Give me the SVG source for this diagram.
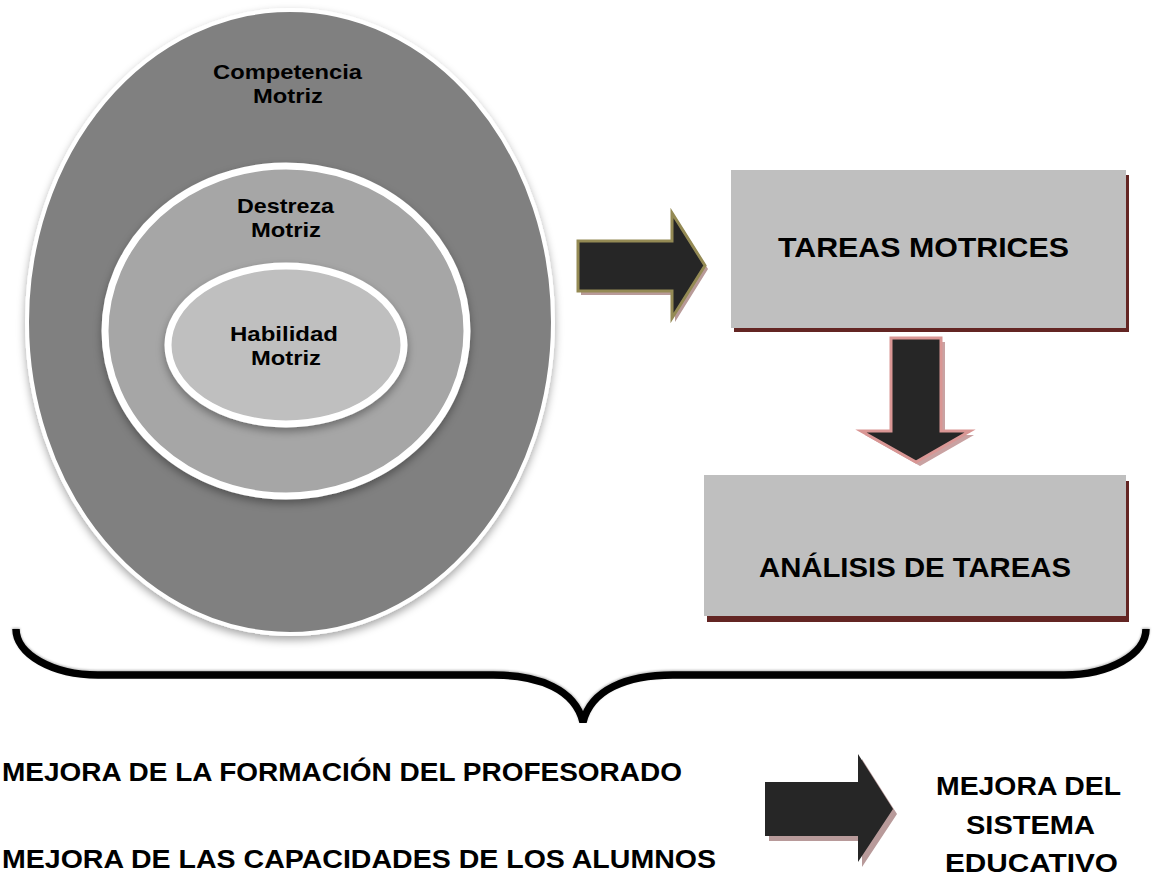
<svg xmlns="http://www.w3.org/2000/svg" width="1152" height="877" viewBox="0 0 1152 877">
  <defs>
    <filter id="soft" x="-10%" y="-10%" width="120%" height="125%">
      <feDropShadow dx="0" dy="4" stdDeviation="4" flood-color="#000" flood-opacity="0.35"/>
    </filter>
    <filter id="braceShadow" x="-5%" y="-20%" width="110%" height="140%">
      <feDropShadow dx="0" dy="-1" stdDeviation="0.8" flood-color="#000" flood-opacity="0.3"/>
    </filter>
  </defs>
  <style>
    .lbl { font-family: "Liberation Sans", Arial, sans-serif; font-weight: bold; fill: #000; }
    .small { font-size: 21px; }
    .big { font-size: 28px; }
    .bottom { font-size: 26px; }
    .ring { stroke: #ffffff; }
    .box { fill: #bfbfbf; }
    .boxShadow { fill: #632523; }
    .arrowFill { fill: #262626; }
  </style>
  <rect width="1152" height="877" fill="#ffffff"/>

  <g id="competencia">
    <ellipse cx="290" cy="322" rx="263" ry="312" fill="#808080" class="ring" stroke-width="4" filter="url(#soft)"/>
    <text class="lbl small" x="213" y="79" textLength="149" lengthAdjust="spacingAndGlyphs">Competencia</text>
    <text class="lbl small" x="253" y="103" textLength="70" lengthAdjust="spacingAndGlyphs">Motriz</text>
  </g>
  <g id="destreza">
    <ellipse cx="286" cy="331" rx="181" ry="165" fill="#a6a6a6" class="ring" stroke-width="7" filter="url(#soft)"/>
    <text class="lbl small" x="237" y="213" textLength="97" lengthAdjust="spacingAndGlyphs">Destreza</text>
    <text class="lbl small" x="251" y="237" textLength="70" lengthAdjust="spacingAndGlyphs">Motriz</text>
  </g>
  <g id="habilidad">
    <ellipse cx="286" cy="345" rx="118" ry="79" fill="#bfbfbf" class="ring" stroke-width="7" filter="url(#soft)"/>
    <text class="lbl small" x="230" y="341" textLength="108" lengthAdjust="spacingAndGlyphs">Habilidad</text>
    <text class="lbl small" x="251" y="365" textLength="70" lengthAdjust="spacingAndGlyphs">Motriz</text>
  </g>

  <g id="tareas-motrices">
    <rect class="boxShadow" x="734" y="175" width="395" height="157"/>
    <rect class="box" x="731" y="170" width="395" height="158"/>
    <text class="lbl big" x="778" y="257" textLength="291" lengthAdjust="spacingAndGlyphs">TAREAS MOTRICES</text>
  </g>
  <g id="analisis-tareas">
    <rect class="boxShadow" x="707" y="481" width="422" height="141"/>
    <rect class="box" x="704" y="475" width="422" height="141"/>
    <text class="lbl big" x="759" y="577" textLength="312" lengthAdjust="spacingAndGlyphs">ANÁLISIS DE TAREAS</text>
  </g>

  <g id="mejora-profesorado">
    <text class="lbl bottom" x="2" y="781" textLength="680" lengthAdjust="spacingAndGlyphs">MEJORA DE LA FORMACIÓN DEL PROFESORADO</text>
  </g>
  <g id="mejora-alumnos">
    <text class="lbl bottom" x="2" y="868" textLength="714" lengthAdjust="spacingAndGlyphs">MEJORA DE LAS CAPACIDADES DE LOS ALUMNOS</text>
  </g>
  <g id="mejora-sistema">
    <text class="lbl bottom" x="936" y="795" textLength="185" lengthAdjust="spacingAndGlyphs">MEJORA DEL</text>
    <text class="lbl bottom" x="966" y="834" textLength="129" lengthAdjust="spacingAndGlyphs">SISTEMA</text>
    <text class="lbl bottom" x="945" y="872" textLength="173" lengthAdjust="spacingAndGlyphs">EDUCATIVO</text>
  </g>

  <g id="connectors">
    <g id="arrow-right-top">
      <polygon points="581,245 675,245 675,217 708,269 675,322 675,295 581,295" fill="#b89a98"/>
      <polygon class="arrowFill" points="578,241 672,241 672,213 705,265.5 672,318 672,291 578,291" stroke="#948a54" stroke-width="3" stroke-linejoin="miter"/>
    </g>
    <g id="arrow-down">
      <polygon points="895,342 945,342 945,435 974,435 920,466 865,435 895,435" fill="#c9a2a2"/>
      <polygon class="arrowFill" points="891,338 941,338 941,431 970,431 916,462 861,431 891,431" stroke="#d99694" stroke-width="3" stroke-linejoin="miter"/>
    </g>
    <g id="arrow-right-bottom">
      <polygon points="769,787 862,787 862,759 897,814 862,867 862,841 769,841" fill="#b89a9a"/>
      <polygon class="arrowFill" points="765,782 858,782 858,754 893,809 858,862 858,836 765,836"/>
    </g>
    <path id="brace" d="M16,629 A82,46 0 0 0 98,675 L493,675 C540,675 575,690 583,722 C591,690 626,675 673,675 L1064,675 A82,46 0 0 0 1146,629" fill="none" stroke="#000" stroke-width="7.5" stroke-linecap="butt" filter="url(#braceShadow)"/>
  </g>
</svg>
